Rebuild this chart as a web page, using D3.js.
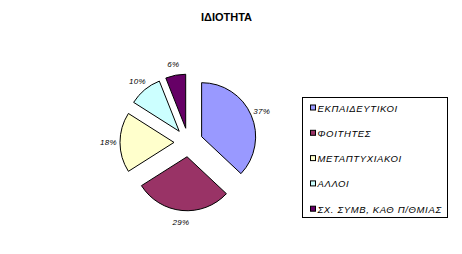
<!DOCTYPE html>
<html>
<head>
<meta charset="utf-8">
<script src="https://cdn.jsdelivr.net/npm/d3@7"></script>
<style>
  html, body { margin: 0; padding: 0; background: #fff; }
  svg { display: block; }
</style>
</head>
<body>
<script>
const title = "ΙΔΙΟΤΗΤΑ";
const categories = ["ΕΚΠΑΙΔΕΥΤΙΚΟΙ", "ΦΟΙΤΗΤΕΣ", "ΜΕΤΑΠΤΥΧΙΑΚΟΙ", "ΑΛΛΟΙ", "ΣΧ. ΣΥΜΒ, ΚΑΘ Π/ΘΜΙΑΣ"];
const values = [37, 29, 18, 10, 6];
const colors = ["#9999FF", "#993366", "#FFFFCC", "#CCFFFF", "#660066"];

const W = 462, H = 254;
const svg = d3.select("body").append("svg").attr("width", W).attr("height", H);

svg.append("text")
  .attr("x", 226.5).attr("y", 21)
  .attr("text-anchor", "middle")
  .attr("font-family", "Liberation Sans, Arial, sans-serif")
  .attr("font-weight", "bold")
  .attr("font-size", 11)
  .text(title);

const cx = 188.4, cy = 142.4, R = 54, explode = 14.4, labelR = 80;
const pie = d3.pie().sort(null).value(d => d)(values);
const arc = d3.arc().innerRadius(0).outerRadius(R);
const total = d3.sum(values);

const g = svg.append("g").attr("transform", `translate(${cx},${cy})`);
const slices = g.selectAll("g.slice").data(pie).enter().append("g")
  .attr("transform", d => {
    const m = (d.startAngle + d.endAngle) / 2;
    return `translate(${explode * Math.sin(m)},${-explode * Math.cos(m)})`;
  });
slices.append("path")
  .attr("d", arc)
  .attr("fill", (d, i) => colors[i])
  .attr("stroke", "#000")
  .attr("stroke-width", 1);

g.selectAll("text.lbl").data(pie).enter().append("text")
  .attr("x", d => labelR * Math.sin((d.startAngle + d.endAngle) / 2))
  .attr("y", d => -labelR * Math.cos((d.startAngle + d.endAngle) / 2) + 3)
  .attr("text-anchor", "middle")
  .attr("font-family", "Liberation Sans, Arial, sans-serif")
  .attr("font-style", "italic")
  .attr("font-size", 8)
  .attr("letter-spacing", 0.3)
  .text(d => Math.round(d.data / total * 100) + "%");

// legend
const lx = 302, ly = 97, lw = 145, lh = 120;
svg.append("rect")
  .attr("x", lx + 0.5).attr("y", ly + 0.5)
  .attr("width", lw).attr("height", lh)
  .attr("fill", "#fff").attr("stroke", "#000").attr("stroke-width", 1);

const leg = svg.selectAll("g.leg").data(categories).enter().append("g")
  .attr("transform", (d, i) => `translate(${lx + 8},${ly + 7.5 + i * 25.3})`);
leg.append("rect")
  .attr("x", 0.5).attr("y", 0.5).attr("width", 5).attr("height", 5)
  .attr("fill", (d, i) => colors[i])
  .attr("stroke", "#000").attr("stroke-width", 1);
leg.append("text")
  .attr("x", 7.5).attr("y", 7)
  .attr("font-family", "Liberation Sans, Arial, sans-serif")
  .attr("font-style", "italic")
  .attr("font-size", 9.5)
  .attr("letter-spacing", 0.65)
  .text(d => d);
</script>
</body>
</html>
